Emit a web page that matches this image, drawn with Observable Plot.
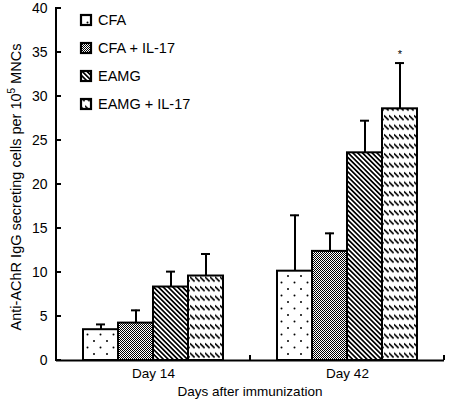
<!DOCTYPE html>
<html><head><meta charset="utf-8">
<script src="https://cdn.jsdelivr.net/npm/d3@7"></script>
<script src="https://cdn.jsdelivr.net/npm/@observablehq/plot@0.6"></script>
<style>body{margin:0;background:#fff} #chart{position:relative;width:450px;height:400px}</style>
</head><body><div id="chart"></div>
<script>
// ---- data ----
const days = ["Day 14", "Day 42"];
const groups = ["CFA", "CFA + IL-17", "EAMG", "EAMG + IL-17"];
const day14Means = [3.5, 4.25, 8.35, 9.6];
const day14Errors = [0.6, 1.45, 1.75, 2.5];
const day42Means = [10.15, 12.4, 23.6, 28.6];
const day42Errors = [6.35, 2.05, 3.65, 5.2];
const significant = [{day: "Day 42", group: "EAMG + IL-17", mark: "*"}];
const yTicks = [0, 5, 10, 15, 20, 25, 30, 35, 40];
const yLabelMain = "Anti-AChR IgG secreting cells per 10";
const yLabelSup = "5";
const yLabelEnd = " MNCs";
const xLabel = "Days after immunization";

const rows = [];
groups.forEach((g, i) => {
  rows.push({day: days[0], group: g, value: day14Means[i], upper: day14Means[i] + day14Errors[i]});
  rows.push({day: days[1], group: g, value: day42Means[i], upper: day42Means[i] + day42Errors[i]});
});
const sig = significant.map(s => ({...s, upper: rows.find(r => r.day === s.day && r.group === s.group).upper}));

const font = "'Liberation Sans', Arial, Helvetica, sans-serif";
const patIds = groups.map((g, i) => `pat${i}`);

const plot = Plot.plot({
  width: 450, height: 400,
  marginLeft: 56, marginRight: 6, marginTop: 8, marginBottom: 40,
  style: {fontFamily: font, fontSize: "13px", color: "black", background: "white"},
  fx: {domain: days, padding: 0, label: null},
  x: {domain: groups, paddingInner: 0, paddingOuter: 0.73, axis: null},
  y: {domain: [0, 40], label: null},
  color: {domain: groups, range: patIds.map(id => `url(#${id})`)},
  marks: [
    Plot.axisY({ticks: yTicks, tickSize: 0, tickPadding: 9, fontSize: 14, label: null}),
    Plot.axisFx({anchor: "bottom", tickSize: 0, tickPadding: 8, fontSize: 13.5, label: null}),
    Plot.ruleX(rows, {fx: "day", x: "group", y1: "value", y2: "upper", stroke: "black", strokeWidth: 2}),
    Plot.tickY(rows, {fx: "day", x: "group", y: "upper", stroke: "black", strokeWidth: 2, insetLeft: 13, insetRight: 13}),
    Plot.barY(rows, {fx: "day", x: "group", y: "value", fill: "group", stroke: "black", strokeWidth: 2}),
    Plot.ruleY([0], {stroke: "black", strokeWidth: 2}),
    Plot.text(sig, {fx: "day", x: "group", y: "upper", text: "mark", dy: -9, fontSize: 11})
  ]
});

const svg = d3.select(plot);
const defs = svg.insert("defs", ":first-child");
// dots
let p = defs.append("pattern").attr("id", patIds[0]).attr("patternUnits", "userSpaceOnUse").attr("width", 13).attr("height", 13);
p.append("rect").attr("width", 13).attr("height", 13).attr("fill", "white");
p.append("circle").attr("cx", 3).attr("cy", 3).attr("r", 1).attr("fill", "black");
p.append("circle").attr("cx", 9.5).attr("cy", 9.5).attr("r", 1).attr("fill", "black");
// dense checker
p = defs.append("pattern").attr("id", patIds[1]).attr("patternUnits", "userSpaceOnUse").attr("width", 2).attr("height", 2);
p.append("rect").attr("width", 2).attr("height", 2).attr("fill", "white");
p.append("rect").attr("width", 1).attr("height", 1).attr("fill", "black");
p.append("rect").attr("x", 1).attr("y", 1).attr("width", 1).attr("height", 1).attr("fill", "black");
// diagonal lines
p = defs.append("pattern").attr("id", patIds[2]).attr("patternUnits", "userSpaceOnUse").attr("width", 3.4).attr("height", 10).attr("patternTransform", "rotate(-45)");
p.append("rect").attr("width", 3.4).attr("height", 10).attr("fill", "white");
p.append("rect").attr("width", 1.7).attr("height", 10).attr("fill", "black");
// dashed diagonals in rows
p = defs.append("pattern").attr("id", patIds[3]).attr("patternUnits", "userSpaceOnUse").attr("width", 5).attr("height", 9.5);
p.append("rect").attr("width", 5).attr("height", 9.5).attr("fill", "white");
p.append("path").attr("d", "M0.5,2 L4,5.5").attr("stroke", "black").attr("stroke-width", 1.7).attr("stroke-linecap", "square");

const fx = plot.scale("fx"), y = plot.scale("y");
const x0 = fx.apply(days[0]);
const y0 = y.apply(0), yTop = y.apply(40);
const deco = svg.append("g").attr("stroke", "black").attr("stroke-width", 2);
deco.append("line").attr("x1", x0).attr("x2", x0).attr("y1", y0 + 1).attr("y2", yTop - 1);
yTicks.forEach(t => deco.append("line").attr("x1", x0).attr("x2", x0 + 5).attr("y1", y.apply(t)).attr("y2", y.apply(t)));
days.forEach(d => {
  const xe = fx.apply(d) + fx.bandwidth;
  deco.append("line").attr("x1", xe).attr("x2", xe).attr("y1", y0).attr("y2", y0 - 5);
});

const mid = 187;
const yl = svg.append("text").attr("transform", `translate(21,${mid}) rotate(-90)`).attr("text-anchor", "middle")
  .attr("font-size", 14.5).attr("font-family", font).attr("fill", "black");
yl.append("tspan").text(yLabelMain);
yl.append("tspan").attr("font-size", 10).attr("dy", -6).text(yLabelSup);
yl.append("tspan").attr("dy", 6).text(yLabelEnd);

const xEnd = fx.apply(days[1]) + fx.bandwidth;
svg.append("text").attr("x", (x0 + xEnd) / 2).attr("y", 396).attr("text-anchor", "middle")
  .attr("font-size", 13.5).attr("font-family", font).attr("fill", "black").text(xLabel);

// legend
const leg = svg.append("g").attr("font-family", font).attr("font-size", 14.5).attr("text-anchor", "start");
groups.forEach((g, i) => {
  const cy = 20 + i * 28;
  leg.append("rect").attr("x", 81).attr("y", cy - 5).attr("width", 10).attr("height", 10)
    .attr("fill", `url(#${patIds[i]})`).attr("stroke", "black").attr("stroke-width", 2.2);
  leg.append("text").attr("x", 98).attr("y", cy).attr("dy", "0.35em").attr("text-anchor", "start").attr("fill", "black").text(g);
});

document.getElementById("chart").appendChild(plot);
</script>
</body></html>
